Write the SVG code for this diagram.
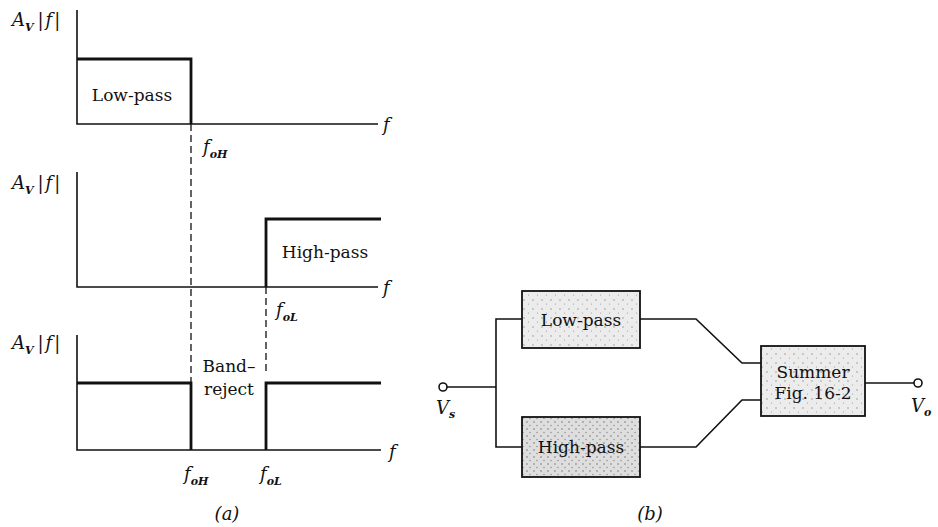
<svg xmlns="http://www.w3.org/2000/svg" width="938" height="527" viewBox="0 0 938 527">
<style>
.ax{stroke:#111;stroke-width:1.6;fill:none}
.th{stroke:#111;stroke-width:2.8;fill:none}
.ds{stroke:#111;stroke-width:1.3;fill:none;stroke-dasharray:7,4}
.w{stroke:#111;stroke-width:1.6;fill:none}
.t{font-family:"DejaVu Serif","Liberation Serif",serif;font-size:17px;fill:#111}
.i{font-family:"DejaVu Serif","Liberation Serif",serif;font-style:italic;font-size:18px;fill:#111}
.s{font-size:11px;font-weight:bold}
.ff{letter-spacing:2px}
.box{stroke:#111;stroke-width:1.8}
</style>
<defs>
<pattern id="st" width="9" height="9" patternUnits="userSpaceOnUse">
<rect width="9" height="9" fill="#ececec"/>
<circle cx="2" cy="3" r="0.7" fill="#888"/>
<circle cx="6.5" cy="7" r="0.6" fill="#999"/>
</pattern>
<pattern id="st2" width="7" height="7" patternUnits="userSpaceOnUse">
<rect width="7" height="7" fill="#dedede"/>
<circle cx="2" cy="2" r="0.8" fill="#777"/>
<circle cx="5" cy="5.5" r="0.7" fill="#888"/>
</pattern>
</defs>
<g id="graph-lowpass">
<path class="ax" d="M77,10 V124 H378"/>
<path class="th" d="M77,59 H191 V124"/>
<text class="i" x="12" y="26">A<tspan class="s" dy="5">V</tspan><tspan class="ff" dx="4" dy="-5">|f|</tspan></text>
<text class="t" x="132" y="101" text-anchor="middle">Low-pass</text>
<text class="i" x="383" y="131">f</text>
<text class="i" x="203" y="153">f<tspan class="s" dy="5">oH</tspan></text>
</g>
<g id="graph-highpass">
<path class="ax" d="M77,172 V287 H378"/>
<path class="th" d="M266,287 V219 H381"/>
<text class="i" x="12" y="189">A<tspan class="s" dy="5">V</tspan><tspan class="ff" dx="4" dy="-5">|f|</tspan></text>
<text class="t" x="325" y="258" text-anchor="middle">High-pass</text>
<text class="i" x="383" y="294">f</text>
<text class="i" x="276" y="316">f<tspan class="s" dy="5">oL</tspan></text>
</g>
<g id="graph-bandreject">
<path class="ax" d="M77,335 V450 H381"/>
<path class="th" d="M77,383 H191 V450"/>
<path class="th" d="M266,450 V383 H381"/>
<text class="i" x="12" y="349">A<tspan class="s" dy="5">V</tspan><tspan class="ff" dx="4" dy="-5">|f|</tspan></text>
<text class="t" x="229" y="372" text-anchor="middle">Band–</text>
<text class="t" x="229" y="395" text-anchor="middle">reject</text>
<text class="i" x="389" y="458">f</text>
<text class="i" x="184" y="480">f<tspan class="s" dy="5">oH</tspan></text>
<text class="i" x="260" y="480">f<tspan class="s" dy="5">oL</tspan></text>
<text class="i" x="227" y="520" text-anchor="middle">(a)</text>
</g>
<g id="dashes">
<path class="ds" d="M191,124 V383"/>
<path class="ds" d="M266,287 V373"/>
</g>
<g id="lowpass-box">
<rect class="box" x="522" y="291" width="118" height="57" fill="url(#st)"/>
<text class="t" x="581" y="326" text-anchor="middle">Low-pass</text>
</g>
<g id="highpass-box">
<rect class="box" x="522" y="417" width="118" height="60" fill="url(#st2)"/>
<text class="t" x="581" y="453" text-anchor="middle">High-pass</text>
</g>
<g id="summer-box">
<rect class="box" x="761" y="346" width="104" height="70" fill="url(#st)"/>
<text class="t" x="813" y="378" text-anchor="middle">Summer</text>
<text class="t" x="813" y="399" text-anchor="middle">Fig. 16-2</text>
</g>
<g id="vs-terminal">
<circle cx="443" cy="387" r="4" fill="#fff" stroke="#111" stroke-width="1.6"/>
<text class="i" x="436" y="414">V<tspan class="s" dy="4">s</tspan></text>
</g>
<g id="vo-terminal">
<circle cx="918" cy="383" r="4" fill="#fff" stroke="#111" stroke-width="1.6"/>
<text class="i" x="911" y="412">V<tspan class="s" dy="4">o</tspan></text>
</g>
<g id="connectors">
<path class="w" d="M447,387 H496"/>
<path class="w" d="M522,319 H496 V447 H522"/>
<path class="w" d="M640,319 H696 L742,363 H761"/>
<path class="w" d="M640,447 H696 L742,400 H761"/>
<path class="w" d="M865,383 H914"/>
</g>
<text class="i" x="650" y="520" text-anchor="middle">(b)</text>
</svg>
